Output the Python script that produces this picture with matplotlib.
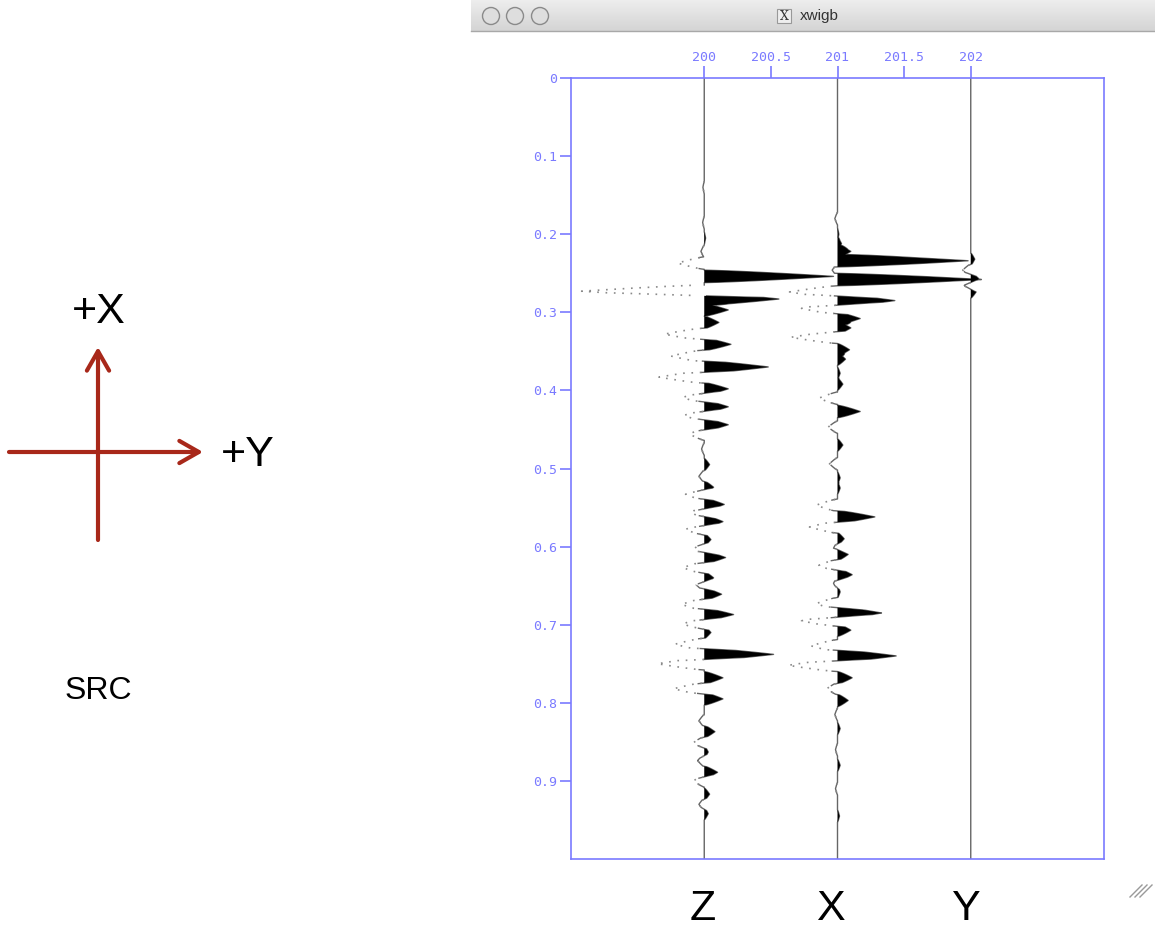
import numpy as np
import matplotlib
matplotlib.use('Agg')
import matplotlib.pyplot as plt
from matplotlib.patches import Circle, Rectangle
from matplotlib.transforms import blended_transform_factory

# позиции трасс и подписи
trace_pos = [200.0, 201.0, 202.0]
trace_names = ['Z', 'X', 'Y']

# события на трассах: время (с) и амплитуда (в единицах оси X)
z_t = [0.140, 0.185, 0.205, 0.222, 0.237, 0.254, 0.273, 0.283, 0.297, 0.313,
       0.328, 0.341, 0.356, 0.370, 0.383, 0.398, 0.409, 0.421, 0.432, 0.444,
       0.456, 0.475, 0.495, 0.510, 0.524, 0.533, 0.546, 0.556, 0.568, 0.578,
       0.591, 0.603, 0.614, 0.627, 0.640, 0.649, 0.661, 0.674, 0.687, 0.699,
       0.710, 0.725, 0.738, 0.750, 0.768, 0.782, 0.795, 0.823, 0.837, 0.851,
       0.863, 0.874, 0.889, 0.900, 0.917, 0.930, 0.942]
z_a = [-0.01, -0.012, 0.01, -0.025, -0.20, 0.97, -0.92, 0.56, 0.18, 0.11,
       -0.30, 0.20, -0.25, 0.48, -0.34, 0.18, -0.16, 0.18, -0.15, 0.18,
       -0.11, -0.02, 0.04, -0.04, 0.07, -0.14, 0.15, -0.10, 0.14, -0.14,
       0.05, -0.08, 0.16, -0.16, 0.07, -0.06, 0.13, -0.17, 0.22, -0.16,
       0.05, -0.22, 0.52, -0.35, 0.14, -0.23, 0.14, -0.04, 0.08, -0.08,
       0.03, -0.05, 0.10, -0.08, 0.04, -0.04, 0.03]

x_t = [0.180, 0.200, 0.212, 0.222, 0.234, 0.246, 0.258, 0.274, 0.285, 0.295,
       0.308, 0.320, 0.332, 0.348, 0.360, 0.378, 0.392, 0.410, 0.427, 0.447,
       0.470, 0.494, 0.512, 0.525, 0.547, 0.562, 0.575, 0.590, 0.602, 0.610,
       0.624, 0.636, 0.647, 0.658, 0.673, 0.685, 0.695, 0.707, 0.727, 0.740,
       0.752, 0.768, 0.782, 0.797, 0.815, 0.833, 0.860, 0.880, 0.910, 0.945]
x_a = [-0.02, 0.01, 0.03, 0.10, 0.98, -0.04, 1.08, -0.36, 0.43, -0.27,
       0.17, 0.10, -0.35, 0.09, 0.06, 0.02, 0.04, -0.14, 0.17, -0.07,
       0.04, -0.06, 0.02, 0.02, -0.16, 0.28, -0.21, 0.05, -0.03, 0.08,
       -0.14, 0.11, -0.03, 0.02, -0.16, 0.33, -0.27, 0.10, -0.20, 0.44,
       -0.37, 0.11, -0.08, 0.08, -0.02, 0.02, -0.015, 0.02, -0.015, 0.015]

y_t = [0.232, 0.246, 0.257, 0.266, 0.274]
y_a = [0.03, -0.06, 0.06, -0.05, 0.04]

x_ticks = [200, 200.5, 201, 201.5, 202]
x_tick_labels = ['200', '200.5', '201', '201.5', '202']
y_ticks = [0, 0.1, 0.2, 0.3, 0.4, 0.5, 0.6, 0.7, 0.8, 0.9]
y_tick_labels = ['0', '0.1', '0.2', '0.3', '0.4', '0.5', '0.6', '0.7', '0.8', '0.9']

blue = '#7a7aff'
red = '#a8281a'

t = np.linspace(0, 1, 2001)


def make_trace(times, amps, h=0.008):
    # сумма узких импульсов вокруг каждого события
    tr = np.zeros_like(t)
    for tp, a in zip(times, amps):
        k = np.clip(1 - np.abs(t - tp) / h, 0, 1) ** 0.8
        tr += a * k
    return tr


fig = plt.figure(figsize=(11.55, 9.34), dpi=100)

# фон: стрелки, надписи, заголовок окна
bg = fig.add_axes([0, 0, 1, 1])
bg.set_xlim(0, 1155)
bg.set_ylim(934, 0)
bg.axis('off')

grad = np.linspace(0.93, 0.83, 50).reshape(-1, 1)
bg.imshow(grad, extent=[471, 1155, 31, 0], cmap='gray', vmin=0, vmax=1, aspect='auto')
bg.plot([471, 1155], [31, 31], color='#a8a8a8', lw=1)
for cx in [491, 515, 540]:
    bg.add_patch(Circle((cx, 16), 8.5, facecolor='#dedede', edgecolor='#8a8a8a', lw=1))
bg.add_patch(Rectangle((777, 9), 14, 14, facecolor='#eeeeee', edgecolor='#999999', lw=0.8))
bg.text(784, 16.5, 'X', fontsize=9, family='DejaVu Serif', ha='center', va='center', color='#333333')
bg.text(800, 16, 'xwigb', fontsize=11, family='Liberation Sans', ha='left', va='center', color='#333333')

bg.annotate('', xy=(98, 347), xytext=(98, 540),
            arrowprops=dict(arrowstyle='->,head_length=0.7,head_width=0.4', lw=3,
                            color=red, mutation_scale=20, shrinkA=0, shrinkB=0))
bg.annotate('', xy=(203, 452), xytext=(9, 452),
            arrowprops=dict(arrowstyle='->,head_length=0.7,head_width=0.4', lw=3,
                            color=red, mutation_scale=20, shrinkA=0, shrinkB=0))
bg.text(99, 312, '+X', fontsize=31, family='Liberation Sans', ha='center', va='center')
bg.text(248, 455, '+Y', fontsize=31, family='Liberation Sans', ha='center', va='center')
bg.text(98, 691, 'SRC', fontsize=23, family='Liberation Sans', ha='center', va='center')

for i in range(3):
    o = i * 5
    bg.plot([1152 - o - 12, 1152 - o], [897, 885], color='#9a9a9a', lw=1)

# основная панель с трассами
ax = fig.add_axes([571 / 1155, 75 / 934, 533 / 1155, 781 / 934])
ax.set_xlim(199, 203)
ax.set_ylim(1, 0)

traces = [make_trace(z_t, z_a), make_trace(x_t, x_a), make_trace(y_t, y_a)]
for x0, tr in zip(trace_pos, traces):
    ax.fill_betweenx(t, x0, x0 + tr, where=tr > 0, color='black', interpolate=True, lw=0, zorder=3)
    solid = np.where(tr > -0.05, x0 + tr, np.nan)
    ax.plot(solid, t, color='#666666', lw=1.0, zorder=2)
    neg = np.where(tr < 0, x0 + tr, np.nan)
    ax.plot(neg, t, color='#8a8a8a', lw=1.2, ls=(0, (1, 4)), zorder=4)

for s in ax.spines.values():
    s.set_color(blue)
    s.set_linewidth(1.2)
ax.set_xticks(x_ticks)
ax.set_xticklabels(x_tick_labels)
ax.set_yticks(y_ticks)
ax.set_yticklabels(y_tick_labels)
ax.tick_params(axis='x', top=True, bottom=False, labeltop=True, labelbottom=False,
               direction='out', length=8.5, width=1.2, color=blue, labelcolor=blue, pad=1.5)
ax.tick_params(axis='y', left=True, direction='out', length=8, width=1.2,
               color=blue, labelcolor=blue, pad=2)
for lab in ax.get_xticklabels() + ax.get_yticklabels():
    lab.set_family('DejaVu Sans Mono')
    lab.set_fontsize(9.5)

tr_blend = blended_transform_factory(ax.transData, ax.transAxes)
name_x = [199.99, 200.95, 201.97]
for nx, nm in zip(name_x, trace_names):
    ax.text(nx, -0.064, nm, transform=tr_blend, fontsize=31, family='Liberation Sans',
            ha='center', va='center', clip_on=False)

fig.savefig('out.png', dpi=100)
